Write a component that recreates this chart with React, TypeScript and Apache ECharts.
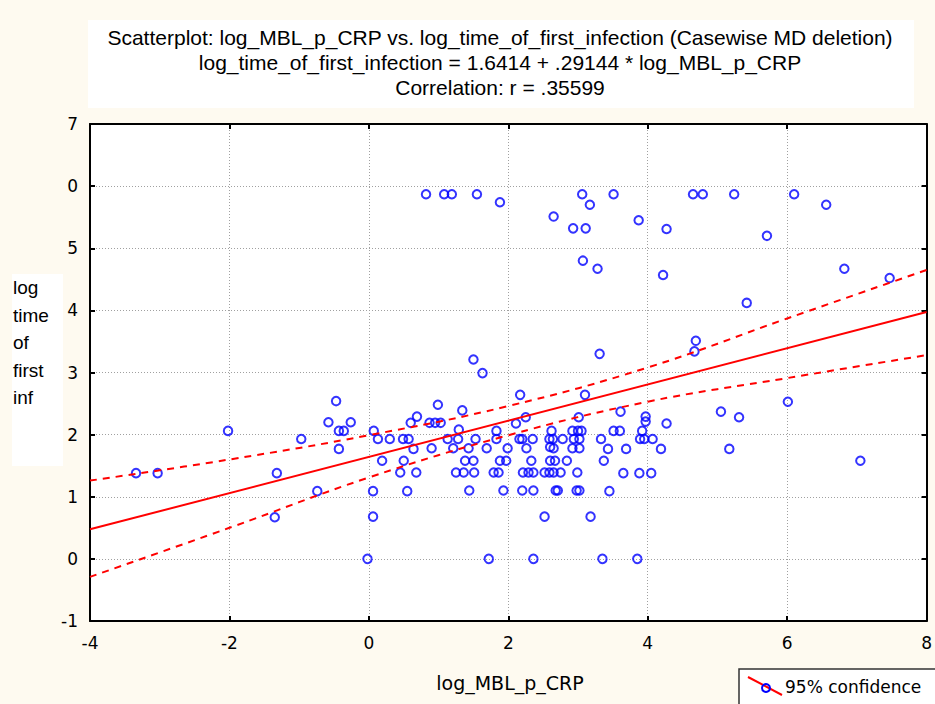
import React, { useEffect, useRef } from "react";
import * as echarts from "echarts";

// ---- data ----
const xValues = [
  -3.34, -3.03, -2.02, -1.32, -1.35, -0.97, -0.74,
  -0.47, -0.58, -0.26, -0.43, -0.36, -0.43,
  -0.02,
  0.07, 0.13, 0.3, 0.49, 0.57,
  0.19, 0.5, 0.45, 0.68, 0.64, 0.06, 0.55, 0.06,
  0.6, 0.69, 0.99, 0.87, 0.95, 1.03, 0.9,
  1.34, 1.29, 1.13, 1.28, 1.53, 1.21, 1.43, 1.69,
  1.38, 1.5, 1.25, 1.36, 1.51, 1.44, 1.5, 1.63,
  1.83, 1.83, 1.79, 1.86, 1.88, 1.97, 1.99, 1.93, 1.72,
  2.17, 2.25, 2.11, 2.16, 2.2, 2.35, 2.26, 2.33,
  2.21, 2.29, 2.36, 2.2, 2.36, 2.36, 2.52,
  2.62, 2.59, 2.64, 2.78, 2.6, 2.65,
  2.6, 2.67, 2.84, 2.52, 2.59, 2.65, 2.75, 2.68, 2.71,
  2.92, 3.0, 3.05, 2.94, 3.02, 2.92, 3.02,
  3.01, 3.1, 2.99, 2.98, 3.02, 3.18, 3.35,
  3.31, 3.33, 3.37,
  3.61, 3.97, 3.97, 4.27, 3.51, 3.6, 3.92,
  3.89, 3.95, 4.07, 3.43, 3.69, 4.19,
  3.65, 3.88, 4.05, 3.45, 3.85,
  4.67, 4.69, 5.05, 5.31, 5.17, 6.01, 7.05,
  0.82, 1.08, 1.19, 1.55, 1.88,
  3.06, 3.51, 4.65, 4.79, 5.24, 6.1,
  3.17, 6.56, 2.65, 3.87, 2.93, 3.11, 4.27, 5.71,
  3.07, 3.28, 4.22, 6.82, 7.47, 5.42,
];
const yValues = [
  1.38, 1.38, 2.06, 1.38, 0.67, 1.93, 1.09,
  2.54, 2.2, 2.2, 2.06, 2.06, 1.77,
  0,
  2.06, 1.93, 1.93, 1.93, 1.93,
  1.58, 1.58, 1.39, 1.39, 1.77, 1.09, 1.09, 0.68,
  2.19, 2.29, 2.48, 2.19, 2.19, 2.19, 1.78,
  2.39, 2.08, 1.93, 1.93, 1.93, 1.78, 1.78, 1.78,
  1.58, 1.58, 1.39, 1.39, 1.39, 1.1, 3.21, 2.99,
  2.06, 1.93, 1.39, 1.39, 1.58, 1.58, 1.78, 1.1, 0,
  2.64, 2.28, 2.18, 1.93, 1.93, 1.93, 1.78, 1.58,
  1.39, 1.39, 1.39, 1.1, 1.1, 0, 0.68,
  2.06, 1.93, 1.93, 1.93, 1.8, 1.78,
  1.58, 1.58, 1.58, 1.39, 1.39, 1.39, 1.39, 1.1, 1.1,
  2.06, 2.06, 2.06, 1.93, 1.93, 1.78, 1.78,
  2.28, 2.64, 1.39, 1.1, 1.1, 0.68, 0,
  3.3, 1.93, 1.58,
  2.37, 2.29, 2.21, 2.18, 2.06, 2.06, 2.06,
  1.93, 1.93, 1.93, 1.77, 1.77, 1.77,
  1.38, 1.38, 1.38, 1.09, 0,
  3.34, 3.51, 2.37, 2.28, 1.77, 2.53, 1.58,
  5.87, 5.87, 5.87, 5.87, 5.74,
  5.87, 5.87, 5.87, 5.87, 5.87, 5.87,
  5.7, 5.7, 5.51, 5.45, 5.32, 5.32, 5.31, 5.2,
  4.8, 4.67, 4.57, 4.67, 4.52, 4.12,
];

// regression line: log_time_of_first_infection = 1.6414 + .29144 * log_MBL_p_CRP
const fitX = [-4, 8];
const fitY = [0.47564, 3.97292];
// 95% confidence band
const bandX = [-4, -2, 0, 2, 4, 6, 8];
const upperY = [1.26, 1.6, 1.99, 2.46, 3.08, 3.87, 4.65];
const lowerY = [-0.29, 0.5, 1.31, 1.99, 2.53, 2.91, 3.28];

const yTickLabels = ["-1", "0", "1", "2", "3", "4", "5", "0", "7"];
const titleLines = [
  "Scatterplot: log_MBL_p_CRP vs. log_time_of_first_infection (Casewise MD deletion)",
  "log_time_of_first_infection = 1.6414 + .29144 * log_MBL_p_CRP",
  "Correlation: r = .35599",
];
const yAxisTitle = "log\ntime\nof\nfirst\ninf";
const xAxisTitle = "log_MBL_p_CRP";
const legendLabel = "95% confidence";

export default function App() {
  const ref = useRef<HTMLDivElement>(null);
  useEffect(() => {
    if (!ref.current) return;
    const chart = echarts.init(ref.current, undefined, { renderer: "svg" });
    const tickFont = { fontFamily: "DejaVu Sans", fontSize: 17, color: "#000" };
    const split = { show: true, lineStyle: { color: "#a0a0a0", type: [1, 2] as any, width: 1 } };
    const axisLine = { show: true, onZero: false, lineStyle: { color: "#000", width: 2 } };
    const axisTick = { show: true, inside: true, length: 5, lineStyle: { color: "#000", width: 2 } };
    chart.setOption({
      animation: false,
      backgroundColor: "#fefaf0",
      grid: {
        left: 90,
        right: 5,
        top: 124,
        bottom: 83,
        show: true,
        backgroundColor: "#ffffff",
        borderWidth: 0,
      },
      xAxis: [
        {
          type: "value",
          min: -4,
          max: 8,
          interval: 2,
          position: "bottom",
          axisLine,
          axisTick,
          splitLine: split,
          axisLabel: { ...tickFont, margin: 13 },
        },
        {
          type: "value",
          min: -4,
          max: 8,
          interval: 2,
          position: "top",
          axisLine,
          axisTick,
          splitLine: { show: false },
          axisLabel: { show: false },
        },
      ],
      yAxis: [
        {
          type: "value",
          min: -1,
          max: 7,
          interval: 1,
          position: "left",
          axisLine,
          axisTick,
          splitLine: split,
          axisLabel: {
            ...tickFont,
            margin: 12,
            formatter: (v: number) => yTickLabels[Math.round(v) + 1],
          },
        },
        {
          type: "value",
          min: -1,
          max: 7,
          interval: 1,
          position: "right",
          axisLine,
          axisTick,
          splitLine: { show: false },
          axisLabel: { show: false },
        },
      ],
      series: [
        {
          type: "scatter",
          name: "data",
          xAxisIndex: 0,
          yAxisIndex: 0,
          symbol: "circle",
          symbolSize: 8.5,
          itemStyle: { color: "rgba(255,255,255,0)", borderColor: "#0000ff", borderWidth: 2 },
          data: xValues.map((x, i) => [x, yValues[i]]),
          z: 3,
        },
        {
          type: "line",
          name: "fit",
          showSymbol: false,
          data: fitX.map((x, i) => [x, fitY[i]]),
          lineStyle: { color: "#ff0000", width: 2 },
          z: 4,
        },
        {
          type: "line",
          name: legendLabel,
          showSymbol: false,
          smooth: 0.4,
          data: bandX.map((x, i) => [x, upperY[i]]),
          lineStyle: { color: "#ff0000", width: 2, type: [7, 6] as any },
          z: 4,
        },
        {
          type: "line",
          name: legendLabel + " (lower)",
          showSymbol: false,
          smooth: 0.4,
          data: bandX.map((x, i) => [x, lowerY[i]]),
          lineStyle: { color: "#ff0000", width: 2, type: [7, 6] as any },
          z: 4,
        },
      ],
      graphic: [
        { type: "rect", shape: { x: 88, y: 20, width: 826, height: 88 }, style: { fill: "#ffffff" }, silent: true },
        ...titleLines.map((t, i) => ({
          type: "text",
          x: 500,
          y: 37 + i * 25,
          style: {
            text: t,
            fill: "#000",
            font: "21px 'Liberation Sans', Arial, sans-serif",
            align: "center",
            verticalAlign: "middle",
          },
        })),
        { type: "rect", shape: { x: 12, y: 274, width: 51, height: 192 }, style: { fill: "#ffffff" }, silent: true },
        {
          type: "text",
          x: 13,
          y: 274,
          style: {
            text: yAxisTitle,
            fill: "#000",
            font: "19px 'Liberation Sans', Arial, sans-serif",
            lineHeight: 27.5,
            align: "left",
            verticalAlign: "top",
          },
        },
        {
          type: "text",
          x: 510,
          y: 683,
          style: {
            text: xAxisTitle,
            fill: "#000",
            font: "19px 'DejaVu Sans', sans-serif",
            align: "center",
            verticalAlign: "middle",
          },
        },
        {
          type: "rect",
          shape: { x: 739, y: 669, width: 215, height: 45 },
          style: { fill: "#ffffff", stroke: "#333333", lineWidth: 1.5 },
        },
        {
          type: "line",
          shape: { x1: 748, y1: 677, x2: 782, y2: 695 },
          style: { stroke: "#ff0000", lineWidth: 2 },
        },
        {
          type: "circle",
          shape: { cx: 766, cy: 688, r: 4 },
          style: { fill: "none", stroke: "#0000ff", lineWidth: 2 },
        },
        {
          type: "text",
          x: 785,
          y: 687,
          style: {
            text: legendLabel,
            fill: "#000",
            font: "17px 'DejaVu Sans', sans-serif",
            align: "left",
            verticalAlign: "middle",
          },
        },
      ],
    });
    return () => chart.dispose();
  }, []);
  return (
    <div
      ref={ref}
      style={{ position: "absolute", left: 0, top: 0, width: 935, height: 704 }}
    />
  );
}
